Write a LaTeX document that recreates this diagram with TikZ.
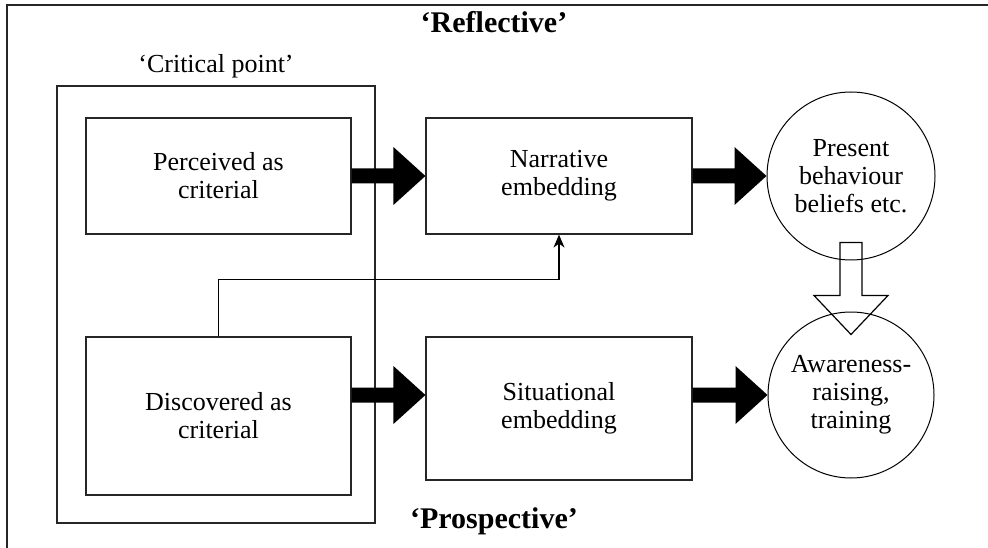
\documentclass[tikz,border=0pt]{standalone}
\usepackage{fontspec}
\setmainfont{Liberation Serif}
\usetikzlibrary{calc,arrows.meta}
\begin{document}
\begin{tikzpicture}[x=1pt,y=-1pt,
  txt/.style={font=\fontsize{26}{28}\selectfont, align=center},
  box/.style={txt, draw=black!85, line width=1.2pt, inner sep=0pt, rectangle},
  circ/.style={txt, draw=black, line width=1pt, inner sep=0pt, circle},
  title/.style={font=\fontsize{30}{32}\selectfont\bfseries},
  bigarrow/.style={fill=black},
  hollowarrow/.style={draw=black, line width=1.2pt, line join=miter},
  link/.style={draw=black, line width=1.2pt, -{Stealth[length=13pt,width=11pt,inset=4pt]}},
  frame/.style={draw=black!85, line width=1.8pt}]
\useasboundingbox (0,0) rectangle (988,548);
% frame
\coordinate (f1) at (988,5);
\coordinate (f2) at (7,5);
\coordinate (f3) at (7,548);
\draw[frame] (f1) -- (f2) -- (f3);
% titles
\node[title] (refl) at (494,22) {‘Reflective’};
\node[title] (prosp) at (494,521) {‘Prospective’};
\node[txt] (critlab) at (216,66) {‘Critical point’};
% boxes
\node[box, minimum width=318, minimum height=437] (crit) at (216,304.5) {};
\node[box, minimum width=265, minimum height=116] (perc) at (218.5,176) {Perceived as\\criterial};
\node[box, minimum width=265, minimum height=158] (disc) at (218.5,416) {Discovered as\\criterial};
\node[box, minimum width=266, minimum height=116] (narr) at (559,176) {Narrative\\embedding};
\node[box, minimum width=266, minimum height=143] (sit) at (559,408.5) {Situational\\embedding};
\node[circ, minimum size=168] (pres) at (851,176) {Present\\behaviour\\beliefs etc.};
\node[circ, minimum size=166] (aw) at (851,395) {Awareness-\\raising,\\training};
% thick arrows
\fill[bigarrow] ($(perc.east)+(0,-7.5)$) -- ($(narr.west)+(-32,-7.5)$) -- ($(narr.west)+(-32,-29)$) -- (narr.west)
  -- ($(narr.west)+(-32,29)$) -- ($(narr.west)+(-32,7.5)$) -- ($(perc.east)+(0,7.5)$) -- cycle;
\fill[bigarrow] ($(narr.east)+(0,-7.5)$) -- ($(pres.west)+(-32,-7.5)$) -- ($(pres.west)+(-32,-29)$) -- (pres.west)
  -- ($(pres.west)+(-32,29)$) -- ($(pres.west)+(-32,7.5)$) -- ($(narr.east)+(0,7.5)$) -- cycle;
\coordinate (d1) at (disc.east |- aw.west);
\coordinate (s1) at (sit.west |- aw.west);
\coordinate (s2) at (sit.east |- aw.west);
\fill[bigarrow] ($(d1)+(0,-7.5)$) -- ($(s1)+(-32,-7.5)$) -- ($(s1)+(-32,-29)$) -- (s1)
  -- ($(s1)+(-32,29)$) -- ($(s1)+(-32,7.5)$) -- ($(d1)+(0,7.5)$) -- cycle;
\fill[bigarrow] ($(s2)+(0,-7.5)$) -- ($(aw.west)+(-32,-7.5)$) -- ($(aw.west)+(-32,-29)$) -- (aw.west)
  -- ($(aw.west)+(-32,29)$) -- ($(aw.west)+(-32,7.5)$) -- ($(s2)+(0,7.5)$) -- cycle;
% hollow arrow
\draw[hollowarrow] ($(pres.south)+(-11,-18)$) -- ($(pres.south)+(11,-18)$) -- ($(aw.north)+(11,-16)$)
  -- ($(aw.north)+(37,-16)$) -- ($(aw.north)+(0,23)$) -- ($(aw.north)+(-37,-16)$)
  -- ($(aw.north)+(-11,-16)$) -- cycle;
% thin connector
\draw[link] (disc.north) -- ++(0,-57) -| (narr.south);
\end{tikzpicture}
\end{document}
